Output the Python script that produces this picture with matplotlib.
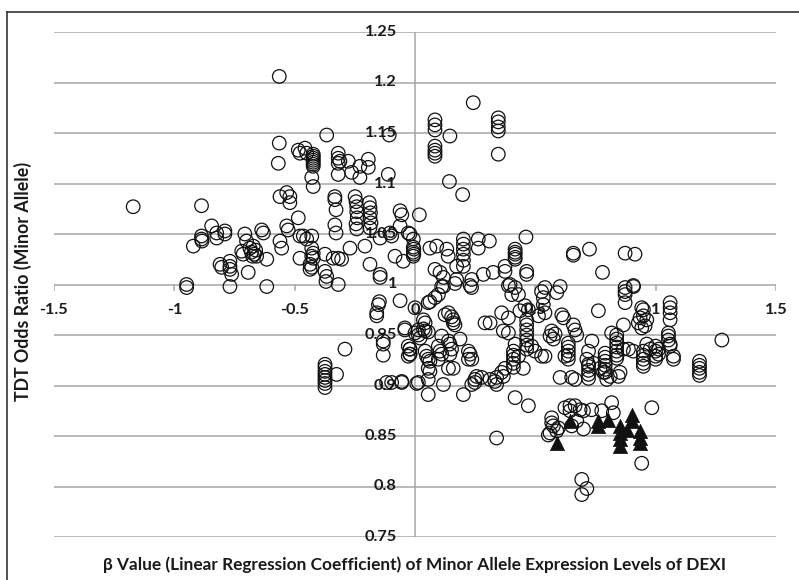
import matplotlib
matplotlib.use("Agg")
import matplotlib.pyplot as plt
from matplotlib.lines import Line2D

# ---------------- data (beta value, TDT odds ratio) ----------------
circles_upper_left = [
    (-1.171, 1.077), (-0.949, 1.000), (-0.949, 0.997), (-0.887, 1.078), (-0.921, 1.038),
    (-0.887, 1.048), (-0.887, 1.045), (-0.885, 1.043), (-0.845, 1.058), (-0.824, 1.051),
    (-0.824, 1.046), (-0.790, 1.053), (-0.790, 1.050), (-0.810, 1.020), (-0.803, 1.017),
    (-0.769, 1.023), (-0.769, 1.018), (-0.762, 1.010), (-0.769, 1.015), (-0.769, 0.998),
    (-0.616, 0.998), (-0.720, 1.033), (-0.714, 1.030), (-0.707, 1.050), (-0.700, 1.043),
    (-0.686, 1.036), (-0.680, 1.032), (-0.672, 1.038), (-0.668, 1.030), (-0.662, 1.034),
    (-0.658, 1.028), (-0.675, 1.028), (-0.693, 1.012), (-0.616, 1.025), (-0.637, 1.054),
    (-0.630, 1.051), (-0.561, 1.043), (-0.554, 1.036), (-0.561, 1.087), (-0.533, 1.091),
    (-0.520, 1.087), (-0.520, 1.081), (-0.533, 1.058), (-0.527, 1.054), (-0.564, 1.206),
    (-0.564, 1.140), (-0.568, 1.120),
    (-0.485, 1.066), (-0.478, 1.048), (-0.464, 1.048), (-0.450, 1.045), (-0.429, 1.048),
    (-0.429, 1.036), (-0.423, 1.031), (-0.429, 1.028), (-0.423, 1.026), (-0.478, 1.026),
    (-0.436, 1.020), (-0.429, 1.017), (-0.436, 1.015),
    (-0.374, 1.030), (-0.340, 1.026), (-0.319, 1.026), (-0.305, 1.025),
    (-0.374, 1.013), (-0.367, 1.008), (-0.370, 1.003), (-0.319, 1.000),
    (-0.367, 1.148),
    (-0.457, 1.135), (-0.450, 1.130), (-0.478, 1.130), (-0.485, 1.133),
    (-0.423, 1.117), (-0.423, 1.119), (-0.423, 1.121), (-0.423, 1.123), (-0.423, 1.125),
    (-0.423, 1.127), (-0.423, 1.129),
    (-0.429, 1.106), (-0.423, 1.097),
    (-0.319, 1.130), (-0.319, 1.125), (-0.319, 1.120), (-0.312, 1.122), (-0.319, 1.109),
    (-0.277, 1.122), (-0.263, 1.111), (-0.229, 1.117), (-0.229, 1.106), (-0.194, 1.124),
    (-0.194, 1.116), (-0.111, 1.109), (-0.107, 1.148),
    (-0.333, 1.087), (-0.333, 1.084), (-0.328, 1.074), (-0.333, 1.059), (-0.328, 1.051),
    (-0.249, 1.087), (-0.245, 1.082), (-0.242, 1.077), (-0.242, 1.072), (-0.240, 1.066),
    (-0.245, 1.060), (-0.242, 1.055),
    (-0.190, 1.081), (-0.187, 1.076), (-0.185, 1.071), (-0.187, 1.066), (-0.183, 1.061),
    (-0.187, 1.056),
    (-0.062, 1.073), (-0.055, 1.069), (-0.062, 1.058), (-0.028, 1.051),
    (-0.145, 1.046), (-0.104, 1.051), (-0.097, 1.048), (-0.208, 1.038), (-0.270, 1.036),
    (-0.187, 1.020), (-0.145, 1.010), (-0.145, 1.007), (-0.083, 1.028), (-0.049, 1.023),
    (-0.007, 1.028), (-0.005, 1.030), (-0.007, 1.032), (-0.005, 1.035), (-0.007, 1.037),
    (-0.021, 1.050), (-0.007, 1.045), (0.018, 1.069),
]

circles_upper_right = [
    (0.242, 1.180), (0.083, 1.163), (0.083, 1.158), (0.083, 1.153),
    (0.083, 1.137), (0.083, 1.133), (0.083, 1.130), (0.083, 1.127), (0.145, 1.147),
    (0.346, 1.165), (0.346, 1.161), (0.346, 1.156), (0.346, 1.152), (0.346, 1.129),
    (0.143, 1.102), (0.198, 1.089),
    (0.062, 1.036), (0.090, 1.038), (0.132, 1.035), (0.138, 1.028),
    (0.201, 1.045), (0.201, 1.040), (0.201, 1.035), (0.201, 1.030), (0.201, 1.024), (0.201, 1.018),
    (0.263, 1.045), (0.263, 1.036), (0.309, 1.043), (0.461, 1.047),
    (0.416, 1.035), (0.416, 1.032), (0.416, 1.030), (0.416, 1.027), (0.416, 1.025),
    (0.658, 1.031), (0.658, 1.029), (0.725, 1.035), (0.873, 1.031), (0.914, 1.030),
    (0.779, 1.012),
    (0.083, 1.015), (0.104, 1.012), (0.118, 1.007), (0.173, 1.018), (0.173, 1.005),
    (0.236, 1.005), (0.284, 1.010), (0.325, 1.012), (0.374, 1.018), (0.374, 1.013),
    (0.464, 1.013), (0.464, 1.010),
    (0.118, 0.998), (0.229, 0.999), (0.388, 0.999), (0.416, 0.997), (0.540, 0.997),
    (0.603, 0.998), (0.873, 0.997), (0.873, 0.993), (0.907, 0.999),
]

circles_lower_left = [
    (-0.148, 0.983), (-0.152, 0.980), (-0.062, 0.984), (-0.159, 0.972), (-0.159, 0.969),
    (-0.042, 0.955), (-0.132, 0.944), (-0.132, 0.941), (-0.132, 0.930), (-0.291, 0.936),
    (-0.021, 0.936), (-0.021, 0.931),
    (-0.374, 0.921), (-0.374, 0.918), (-0.374, 0.914), (-0.374, 0.911), (-0.374, 0.908),
    (-0.374, 0.905), (-0.374, 0.902), (-0.374, 0.898), (-0.326, 0.911),
    (-0.118, 0.903), (-0.097, 0.903), (-0.055, 0.904), (0.007, 0.902),
]

circles_lower_right = [
    (0.000, 0.977), (0.055, 0.982), (0.062, 0.983), (0.111, 0.998), (0.166, 1.001),
    (0.235, 0.997), (0.083, 0.987), (0.097, 0.990),
    (0.125, 0.970), (0.139, 0.972), (0.152, 0.968), (0.159, 0.965), (0.159, 0.962), (0.166, 0.960),
    (0.035, 0.965), (0.042, 0.962), (0.014, 0.955), (0.035, 0.956), (0.042, 0.954), (0.055, 0.953),
    (-0.042, 0.957), (0.000, 0.952), (0.014, 0.950), (0.021, 0.947),
    (-0.028, 0.939), (-0.021, 0.936), (-0.021, 0.931), (-0.028, 0.929),
    (0.042, 0.934), (0.048, 0.929), (0.055, 0.926), (0.062, 0.924),
    (0.097, 0.939), (0.104, 0.934), (0.111, 0.931), (0.097, 0.926),
    (0.139, 0.944), (0.145, 0.941), (0.152, 0.936), (0.145, 0.931), (0.111, 0.949),
    (0.187, 0.946), (0.222, 0.934), (0.229, 0.931), (0.222, 0.926), (0.236, 0.926),
    (0.055, 0.917), (0.062, 0.914), (0.139, 0.917), (0.159, 0.917),
    (0.256, 0.909), (0.249, 0.906), (0.249, 0.903), (0.277, 0.908), (0.236, 0.901),
    (0.312, 0.906), (0.332, 0.904), (0.339, 0.908), (0.360, 0.913), (0.374, 0.917),
    (0.367, 0.909), (0.339, 0.901),
    (0.409, 0.934), (0.409, 0.930), (0.409, 0.926), (0.409, 0.922), (0.409, 0.918),
    (0.416, 0.941), (0.430, 0.929), (0.450, 0.917),
    (-0.055, 0.903), (0.014, 0.903), (0.055, 0.906), (0.118, 0.901), (0.055, 0.891),
    (0.201, 0.891),
    (0.312, 0.962), (0.291, 0.962), (0.360, 0.972), (0.388, 0.967), (0.367, 0.954),
    (0.388, 0.952), (0.402, 0.990), (0.395, 1.000), (0.430, 0.990),
    (0.436, 0.974), (0.457, 0.979), (0.471, 0.975),
    (0.464, 0.965), (0.464, 0.960), (0.464, 0.955), (0.464, 0.950), (0.464, 0.945),
    (0.464, 0.940), (0.464, 0.936),
    (0.485, 0.939), (0.499, 0.934), (0.526, 0.929),
    (0.526, 0.993), (0.533, 0.987), (0.533, 0.980), (0.540, 0.972), (0.513, 0.969),
    (0.589, 0.992), (0.610, 0.970), (0.617, 0.967), (0.762, 0.974),
    (0.873, 0.990), (0.873, 0.982), (0.908, 0.998),
    (0.942, 0.977), (0.935, 0.967), (0.928, 0.962), (0.942, 0.957), (0.963, 0.965),
    (0.956, 0.959), (0.949, 0.975), (0.949, 0.969),
    (1.060, 0.982), (1.060, 0.977), (1.060, 0.972), (1.060, 0.965), (0.866, 0.960),
    (0.568, 0.954), (0.582, 0.951), (0.561, 0.949), (0.575, 0.946),
    (0.658, 0.960), (0.665, 0.955), (0.672, 0.950),
    (0.637, 0.942), (0.637, 0.938), (0.637, 0.934), (0.637, 0.930), (0.637, 0.926),
    (0.623, 0.929), (0.540, 0.929),
    (0.735, 0.944), (0.721, 0.934), (0.714, 0.926), (0.721, 0.921),
    (0.721, 0.919), (0.721, 0.915), (0.721, 0.911), (0.721, 0.907),
    (0.603, 0.908), (0.651, 0.908), (0.665, 0.906),
    (0.790, 0.932), (0.790, 0.928), (0.790, 0.924), (0.790, 0.920), (0.790, 0.916),
    (0.790, 0.913),
    (0.783, 0.913), (0.797, 0.906), (0.811, 0.909), (0.845, 0.909), (0.852, 0.913),
    (0.838, 0.950), (0.838, 0.946), (0.838, 0.942), (0.838, 0.938), (0.838, 0.934),
    (0.838, 0.930), (0.838, 0.927),
    (0.866, 0.936), (0.887, 0.936), (0.907, 0.934), (0.817, 0.952),
    (0.949, 0.934), (0.949, 0.930), (0.949, 0.926), (0.949, 0.922), (0.949, 0.919),
    (0.963, 0.941), (0.977, 0.936), (1.012, 0.936), (1.012, 0.931),
    (1.053, 0.949), (1.053, 0.945), (1.060, 0.941), (1.060, 0.939), (1.053, 0.952),
    (1.074, 0.929), (1.074, 0.926),
    (0.742, 0.922), (0.769, 0.917),
    (1.000, 0.939), (1.000, 0.934), (1.000, 0.929), (1.000, 0.926),
    (1.275, 0.945),
    (1.182, 0.924), (1.182, 0.920), (1.182, 0.917), (1.182, 0.913), (1.182, 0.910),
]

circles_bottom = [
    (0.416, 0.888), (0.471, 0.880), (0.339, 0.848),
    (0.568, 0.868), (0.568, 0.863), (0.575, 0.860), (0.561, 0.853), (0.554, 0.851),
    (0.596, 0.858), (0.589, 0.855),
    (0.623, 0.878), (0.644, 0.880), (0.665, 0.880), (0.686, 0.876), (0.700, 0.875),
    (0.734, 0.876), (0.700, 0.857), (0.672, 0.865), (0.651, 0.860), (0.644, 0.875),
    (0.776, 0.875), (0.817, 0.883), (0.824, 0.873),
    (0.984, 0.878), (0.942, 0.823),
    (0.693, 0.807), (0.714, 0.798), (0.693, 0.792),
]

triangles = [
    (0.589, 0.843), (0.644, 0.865), (0.762, 0.865), (0.762, 0.860), (0.803, 0.866),
    (0.852, 0.860), (0.852, 0.853), (0.852, 0.847), (0.852, 0.840), (0.880, 0.856),
    (0.900, 0.871), (0.900, 0.865), (0.935, 0.855), (0.935, 0.848), (0.935, 0.843),
]

x_ticks = [-1.5, -1, -0.5, 0, 0.5, 1, 1.5]
x_tick_labels = ["-1.5", "-1", "-0.5", "0", "0.5", "1", "1.5"]
y_ticks = [0.75, 0.8, 0.85, 0.9, 0.95, 1.0, 1.05, 1.1, 1.15, 1.2, 1.25]
y_tick_labels = ["0.75", "0.8", "0.85", "0.9", "0.95", "1", "1.05", "1.1", "1.15", "1.2", "1.25"]

x_label = "β Value (Linear Regression Coefficient) of Minor Allele Expression Levels of DEXI"
y_label = "TDT Odds Ratio (Minor Allele)"

# ---------------- figure ----------------
plt.rcParams["font.family"] = ["Lato", "DejaVu Sans"]
W, H = 799, 580
fig = plt.figure(figsize=(W / 100, H / 100), dpi=100)
ax = fig.add_axes([54 / W, 1 - 537 / H, 722 / W, 505 / H])
ax.set_xlim(-1.5, 1.5)
ax.set_ylim(0.75, 1.25)
ax.axis("off")

grid_col = "#a6a6a6"
for yv in y_ticks:
    ax.axhline(yv, color=grid_col, lw=1.1, zorder=1)
ax.axvline(0, color=grid_col, lw=1.1, zorder=1)
# small tick marks on horizontal axis (at y = 1)
for xv in x_ticks:
    ax.plot([xv, xv], [1.0, 0.9945], color=grid_col, lw=1.1, zorder=1)

txt_col = "#1a1a1a"
for yv, lab in zip(y_ticks, y_tick_labels):
    ax.text(-0.075, yv, lab, ha="right", va="center", fontsize=11.8, fontweight="bold", color=txt_col, zorder=2)
for xv, lab in zip(x_ticks, x_tick_labels):
    ax.text(xv, 0.975, lab, ha="center", va="center", fontsize=11.8, fontweight="bold", color=txt_col, zorder=2)

circ = circles_upper_left + circles_upper_right + circles_lower_left + circles_lower_right + circles_bottom
cx = [p[0] for p in circ]
cy = [p[1] for p in circ]
ax.scatter(cx, cy, s=95, facecolors="none", edgecolors="#111111", linewidths=0.9, zorder=3)

tx = [p[0] for p in triangles]
ty = [p[1] for p in triangles]
ax.scatter(tx, ty, s=105, marker="^", facecolors="#111111", edgecolors="#111111", linewidths=0.5, zorder=4)

fig.text(415 / W, 1 - 565 / H, x_label, ha="center", va="center", fontsize=12.4, fontweight="bold", color=txt_col)
fig.text(23 / W, 1 - 281 / H, y_label, ha="center", va="center", rotation=90, fontsize=12.8, fontweight="bold", color=txt_col)

# outer frame (partly cropped in the reference)
fig.add_artist(Line2D([7 / W, 7 / W], [0, 1 - 12 / H], transform=fig.transFigure, color="#333333", lw=1.2))
fig.add_artist(Line2D([7 / W, 1], [1 - 12 / H, 1 - 12 / H], transform=fig.transFigure, color="#333333", lw=1.2))

fig.savefig("out.png", dpi=100)
